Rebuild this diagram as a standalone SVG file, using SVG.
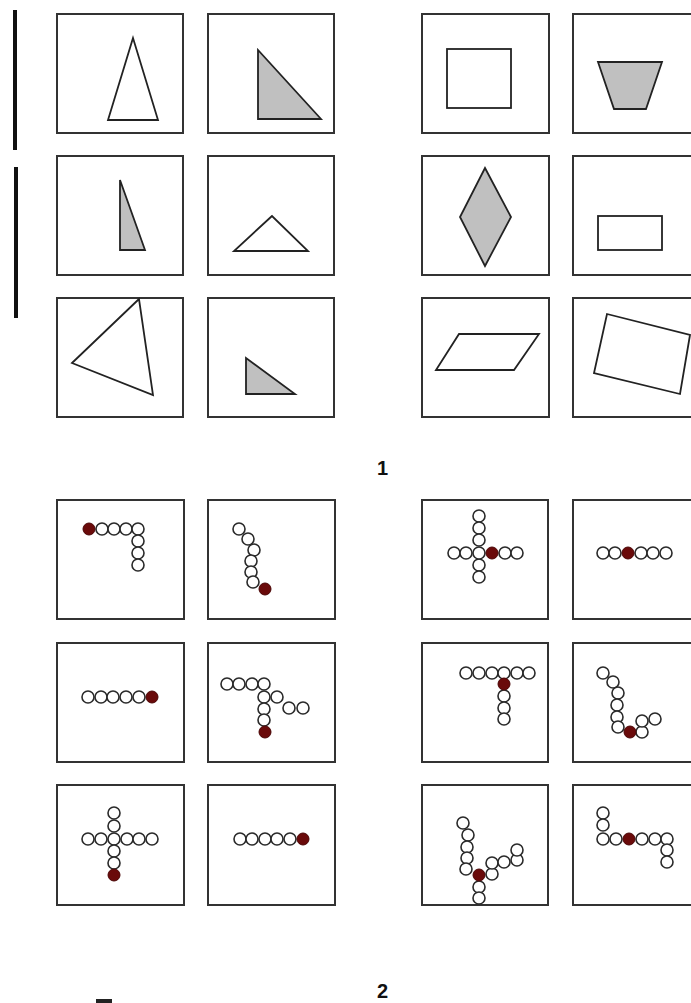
<svg xmlns="http://www.w3.org/2000/svg" width="691" height="1003" viewBox="0 0 691 1003">
<style>
.box{fill:#fff;stroke:#333;stroke-width:2}
.sh{stroke:#222;stroke-width:1.8;stroke-linejoin:miter}
.w{fill:#fff}
.g{fill:#c0c0c0}
.c{fill:#fff;stroke:#2a2a2a;stroke-width:1.6}
.r{fill:#6a0a0a;stroke:#4a0505;stroke-width:1}
.lbl{font-family:"Liberation Sans",Arial,sans-serif;font-weight:bold;font-size:20px;fill:#111}
.bar{fill:#111}
</style>
<rect width="691" height="1003" fill="#fff"/>
<g id="bars">
<rect class="bar" x="13" y="10" width="4" height="140"/>
<rect class="bar" x="14" y="167" width="4" height="151"/>
</g>
<g id="section1">
<g id="s1-r1c1"><rect class="box" x="57" y="14" width="126" height="119"/><polygon class="sh w" points="133,38 108,120 158,120"/></g>
<g id="s1-r1c2"><rect class="box" x="208" y="14" width="126" height="119"/><polygon class="sh g" points="258,50 258,119 321,119"/></g>
<g id="s1-r1c3"><rect class="box" x="422" y="14" width="127" height="119"/><rect class="sh w" x="447" y="49" width="64" height="59"/></g>
<g id="s1-r1c4"><rect class="box" x="573" y="14" width="126" height="119"/><polygon class="sh g" points="598,62 662,62 646,109 614,109"/></g>
<g id="s1-r2c1"><rect class="box" x="57" y="156" width="126" height="119"/><polygon class="sh g" points="120,180 120,250 145,250"/></g>
<g id="s1-r2c2"><rect class="box" x="208" y="156" width="126" height="119"/><polygon class="sh w" points="272,216 234,251 308,251"/></g>
<g id="s1-r2c3"><rect class="box" x="422" y="156" width="127" height="119"/><polygon class="sh g" points="485,168 511,217 485,266 460,217"/></g>
<g id="s1-r2c4"><rect class="box" x="573" y="156" width="126" height="119"/><rect class="sh w" x="598" y="216" width="64" height="34"/></g>
<g id="s1-r3c1"><rect class="box" x="57" y="298" width="126" height="119"/><polygon class="sh w" points="139,299 72,363 153,395"/></g>
<g id="s1-r3c2"><rect class="box" x="208" y="298" width="126" height="119"/><polygon class="sh g" points="246,358 246,394 295,394"/></g>
<g id="s1-r3c3"><rect class="box" x="422" y="298" width="127" height="119"/><polygon class="sh w" points="459,334 539,334 514,370 436,370"/></g>
<g id="s1-r3c4"><rect class="box" x="573" y="298" width="126" height="119"/><polygon class="sh w" points="607,314 690,335 680,394 594,373"/></g>
<text id="label1" class="lbl" x="377" y="475">1</text>
</g>
<g id="section2">
<g id="s2-r1c1"><rect class="box" x="57" y="500" width="127" height="119"/>
<circle class="c" cx="102" cy="529" r="6"/><circle class="c" cx="114" cy="529" r="6"/><circle class="c" cx="126" cy="529" r="6"/><circle class="c" cx="138" cy="529" r="6"/><circle class="c" cx="138" cy="541" r="6"/><circle class="c" cx="138" cy="553" r="6"/><circle class="c" cx="138" cy="565" r="6"/><circle class="r" cx="89" cy="529" r="6"/></g>
<g id="s2-r1c2"><rect class="box" x="208" y="500" width="127" height="119"/>
<circle class="c" cx="239" cy="529" r="6"/><circle class="c" cx="248" cy="539" r="6"/><circle class="c" cx="254" cy="550" r="6"/><circle class="c" cx="251" cy="561" r="6"/><circle class="c" cx="251" cy="572" r="6"/><circle class="c" cx="253" cy="582" r="6"/><circle class="r" cx="265" cy="589" r="6"/></g>
<g id="s2-r1c3"><rect class="box" x="422" y="500" width="126" height="119"/>
<circle class="c" cx="479" cy="516" r="6"/><circle class="c" cx="479" cy="528" r="6"/><circle class="c" cx="479" cy="540" r="6"/><circle class="c" cx="479" cy="565" r="6"/><circle class="c" cx="479" cy="577" r="6"/><circle class="c" cx="454" cy="553" r="6"/><circle class="c" cx="466" cy="553" r="6"/><circle class="c" cx="479" cy="553" r="6"/><circle class="c" cx="505" cy="553" r="6"/><circle class="c" cx="517" cy="553" r="6"/><circle class="r" cx="492" cy="553" r="6"/></g>
<g id="s2-r1c4"><rect class="box" x="573" y="500" width="126" height="119"/>
<circle class="c" cx="603" cy="553" r="6"/><circle class="c" cx="615" cy="553" r="6"/><circle class="c" cx="641" cy="553" r="6"/><circle class="c" cx="653" cy="553" r="6"/><circle class="c" cx="666" cy="553" r="6"/><circle class="r" cx="628" cy="553" r="6"/></g>
<g id="s2-r2c1"><rect class="box" x="57" y="643" width="127" height="119"/>
<circle class="c" cx="88" cy="697" r="6"/><circle class="c" cx="101" cy="697" r="6"/><circle class="c" cx="113" cy="697" r="6"/><circle class="c" cx="126" cy="697" r="6"/><circle class="c" cx="139" cy="697" r="6"/><circle class="r" cx="152" cy="697" r="6"/></g>
<g id="s2-r2c2"><rect class="box" x="208" y="643" width="127" height="119"/>
<circle class="c" cx="227" cy="684" r="6"/><circle class="c" cx="239" cy="684" r="6"/><circle class="c" cx="252" cy="684" r="6"/><circle class="c" cx="264" cy="684" r="6"/><circle class="c" cx="264" cy="697" r="6"/><circle class="c" cx="264" cy="709" r="6"/><circle class="c" cx="264" cy="720" r="6"/><circle class="c" cx="277" cy="697" r="6"/><circle class="c" cx="289" cy="708" r="6"/><circle class="c" cx="303" cy="708" r="6"/><circle class="r" cx="265" cy="732" r="6"/></g>
<g id="s2-r2c3"><rect class="box" x="422" y="643" width="126" height="119"/>
<circle class="c" cx="466" cy="673" r="6"/><circle class="c" cx="479" cy="673" r="6"/><circle class="c" cx="492" cy="673" r="6"/><circle class="c" cx="504" cy="673" r="6"/><circle class="c" cx="517" cy="673" r="6"/><circle class="c" cx="529" cy="673" r="6"/><circle class="c" cx="504" cy="696" r="6"/><circle class="c" cx="504" cy="708" r="6"/><circle class="c" cx="504" cy="719" r="6"/><circle class="r" cx="504" cy="684" r="6"/></g>
<g id="s2-r2c4"><rect class="box" x="573" y="643" width="126" height="119"/>
<circle class="c" cx="603" cy="673" r="6"/><circle class="c" cx="613" cy="682" r="6"/><circle class="c" cx="618" cy="693" r="6"/><circle class="c" cx="617" cy="705" r="6"/><circle class="c" cx="617" cy="717" r="6"/><circle class="c" cx="618" cy="727" r="6"/><circle class="c" cx="642" cy="732" r="6"/><circle class="c" cx="642" cy="721" r="6"/><circle class="c" cx="655" cy="719" r="6"/><circle class="r" cx="630" cy="732" r="6"/></g>
<g id="s2-r3c1"><rect class="box" x="57" y="785" width="127" height="120"/>
<circle class="c" cx="114" cy="813" r="6"/><circle class="c" cx="114" cy="826" r="6"/><circle class="c" cx="88" cy="839" r="6"/><circle class="c" cx="101" cy="839" r="6"/><circle class="c" cx="114" cy="839" r="6"/><circle class="c" cx="127" cy="839" r="6"/><circle class="c" cx="139" cy="839" r="6"/><circle class="c" cx="152" cy="839" r="6"/><circle class="c" cx="114" cy="851" r="6"/><circle class="c" cx="114" cy="863" r="6"/><circle class="r" cx="114" cy="875" r="6"/></g>
<g id="s2-r3c2"><rect class="box" x="208" y="785" width="127" height="120"/>
<circle class="c" cx="240" cy="839" r="6"/><circle class="c" cx="252" cy="839" r="6"/><circle class="c" cx="265" cy="839" r="6"/><circle class="c" cx="277" cy="839" r="6"/><circle class="c" cx="290" cy="839" r="6"/><circle class="r" cx="303" cy="839" r="6"/></g>
<g id="s2-r3c3"><rect class="box" x="422" y="785" width="126" height="120"/>
<circle class="c" cx="463" cy="823" r="6"/><circle class="c" cx="468" cy="835" r="6"/><circle class="c" cx="467" cy="847" r="6"/><circle class="c" cx="467" cy="858" r="6"/><circle class="c" cx="466" cy="869" r="6"/><circle class="c" cx="479" cy="887" r="6"/><circle class="c" cx="479" cy="898" r="6"/><circle class="c" cx="492" cy="874" r="6"/><circle class="c" cx="492" cy="863" r="6"/><circle class="c" cx="504" cy="862" r="6"/><circle class="c" cx="517" cy="860" r="6"/><circle class="c" cx="517" cy="850" r="6"/><circle class="r" cx="479" cy="875" r="6"/></g>
<g id="s2-r3c4"><rect class="box" x="573" y="785" width="126" height="120"/>
<circle class="c" cx="603" cy="813" r="6"/><circle class="c" cx="603" cy="825" r="6"/><circle class="c" cx="603" cy="839" r="6"/><circle class="c" cx="616" cy="839" r="6"/><circle class="c" cx="642" cy="839" r="6"/><circle class="c" cx="655" cy="839" r="6"/><circle class="c" cx="667" cy="839" r="6"/><circle class="c" cx="667" cy="850" r="6"/><circle class="c" cx="667" cy="862" r="6"/><circle class="r" cx="629" cy="839" r="6"/></g>
<text id="label2" class="lbl" x="377" y="998">2</text>
</g>
<g id="connectors"></g>
<rect id="mark" x="96" y="999" width="16" height="4" fill="#222"/>
</svg>
